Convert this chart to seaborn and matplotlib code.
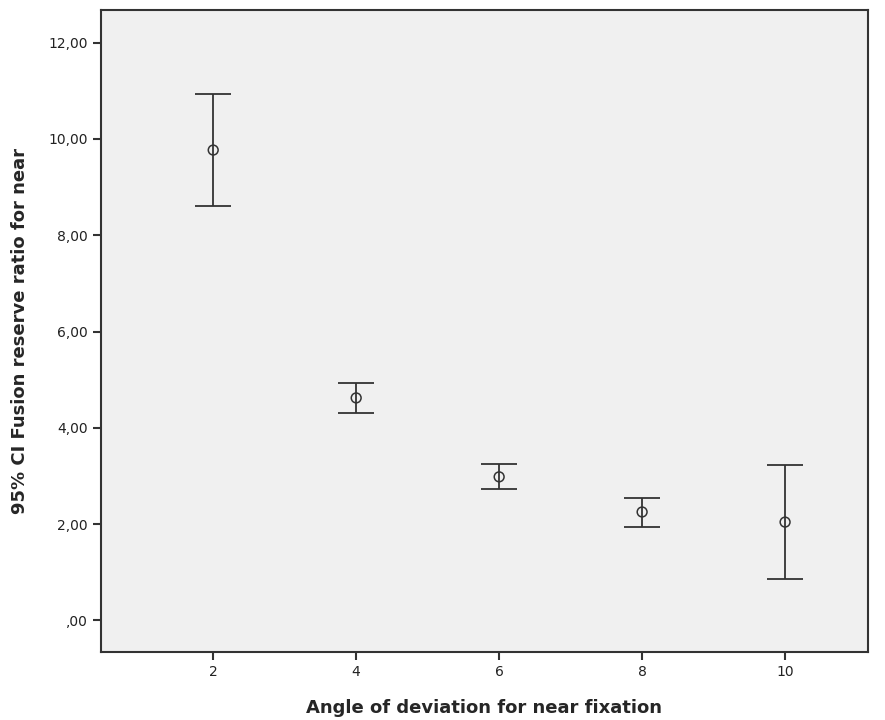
import matplotlib
matplotlib.use("Agg")
import matplotlib.pyplot as plt
import seaborn as sns
import pandas as pd
from matplotlib.ticker import FuncFormatter

angles = [2, 4, 6, 8, 10]
means = [9.77, 4.62, 2.98, 2.25, 2.04]
lower = [8.61, 4.31, 2.73, 1.94, 0.86]
upper = [10.93, 4.93, 3.25, 2.54, 3.23]
yticks = [0, 2, 4, 6, 8, 10, 12]

df = pd.DataFrame({"angle": angles, "mean": means, "lo": lower, "hi": upper})

sns.set_style("ticks")
fig = plt.figure(figsize=(8.85, 7.2), dpi=100)
ax = fig.add_axes([0.1141, 0.0944, 0.8667, 0.8917])
ax.set_facecolor("#f0f0f0")

ax.errorbar(df["angle"], df["mean"],
            yerr=[df["mean"] - df["lo"], df["hi"] - df["mean"]],
            fmt="none", ecolor="#333333", elinewidth=1.3, capsize=13, capthick=1.3, zorder=2)
sns.scatterplot(data=df, x="angle", y="mean", ax=ax, marker="o", s=50,
                facecolor="none", edgecolor="#333333", linewidth=1.1, zorder=3)

ax.set_xlim(0.43, 11.16)
ax.set_ylim(-0.66, 12.68)
ax.set_xticks(angles)
ax.set_yticks(yticks)
ax.yaxis.set_major_formatter(FuncFormatter(lambda v, p: ("%.2f" % v).replace(".", ",").lstrip("0") if v == 0 else ("%.2f" % v).replace(".", ",")))
ax.tick_params(axis="both", labelsize=10, length=6, width=1.5, color="#333333", labelcolor="#222222")
for s in ax.spines.values():
    s.set_color("#333333")
    s.set_linewidth(1.5)
ax.set_xlabel("Angle of deviation for near fixation", fontsize=13, fontweight="bold", labelpad=14)
ax.set_ylabel("95% CI Fusion reserve ratio for near", fontsize=13, fontweight="bold", labelpad=14)
fig.savefig("out.png", dpi=100)
